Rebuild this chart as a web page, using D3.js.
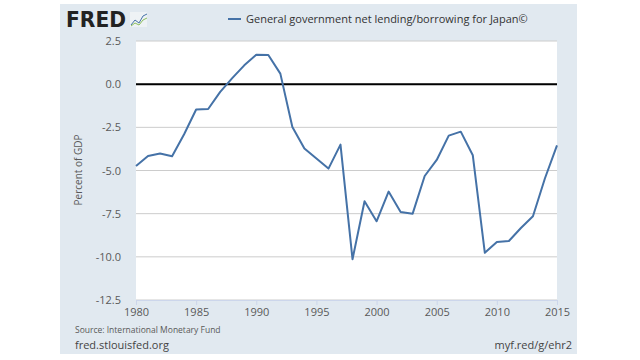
<!DOCTYPE html>
<html><head><meta charset="utf-8">
<script src="https://cdn.jsdelivr.net/npm/d3@7"></script>
<style>body{margin:0;background:#fff}svg{display:block;font-family:"Open Sans",sans-serif}</style>
</head><body><svg id="c" width="640" height="360"></svg>
<script>
const years = d3.range(1980, 2016);
const values = [-4.74,-4.16,-4.02,-4.18,-2.9,-1.47,-1.44,-0.45,0.35,1.09,1.71,1.69,0.61,-2.48,-3.73,-4.31,-4.89,-3.5,-10.14,-6.78,-7.94,-6.22,-7.4,-7.5,-5.32,-4.39,-2.98,-2.75,-4.12,-9.77,-9.14,-9.08,-8.33,-7.65,-5.45,-3.54];
const yTicks = [2.5,0,-2.5,-5,-7.5,-10,-12.5];
const xTicks = [1980,1985,1990,1995,2000,2005,2010,2015];
const seriesName = "General government net lending/borrowing for Japan\u00a9";

const svg = d3.select("#c");
svg.append("rect").attr("x",60).attr("y",4).attr("width",517).attr("height",350).attr("fill","#e1e9f0");

const x = d3.scaleLinear().domain([1980,2015]).range([136,557]);
const y = d3.scaleLinear().domain([-12.5,2.5]).range([300,41]);

svg.append("rect").attr("x",136).attr("y",41).attr("width",421).attr("height",259).attr("fill","#fff");

// grid
svg.append("g").selectAll("line").data(yTicks).join("line")
  .attr("x1",136).attr("x2",557).attr("y1",d=>y(d)).attr("y2",d=>y(d))
  .attr("stroke","#cccccc").attr("stroke-width",1);

// y axis labels
const fmt = d3.formatLocale({decimal:".",thousands:",",grouping:[3],currency:["$",""],minus:"-"}).format(".1f");
const ya = svg.append("g").attr("transform","translate(136,0)")
  .call(d3.axisLeft(y).tickValues(yTicks).tickSize(0).tickPadding(15).tickFormat(fmt));
ya.select(".domain").remove();
ya.selectAll("text").attr("fill","#595959").style("font-size","11px").style("font-family","'Open Sans',sans-serif");

// x axis
const xa = svg.append("g").attr("transform","translate(0,300)")
  .call(d3.axisBottom(x).tickValues(xTicks).tickFormat(d3.format("d")).tickSize(5).tickPadding(3));
xa.select(".domain").attr("stroke","#ccd6eb");
xa.selectAll(".tick line").attr("stroke","#ccd6eb");
xa.selectAll("text").attr("fill","#595959").style("font-size","11px").style("font-family","'Open Sans',sans-serif");

// zero line
svg.append("line").attr("x1",136).attr("x2",557).attr("y1",y(0)).attr("y2",y(0))
  .attr("stroke","#000").attr("stroke-width",2);

// series
const line = d3.line().x((d,i)=>x(years[i])).y(d=>y(d));
svg.append("path").datum(values).attr("d",line).attr("fill","none")
  .attr("stroke","#4572a7").attr("stroke-width",2).attr("stroke-linejoin","round");

// y title
svg.append("text").attr("transform","translate(82,170) rotate(-90)").attr("text-anchor","middle")
  .attr("fill","#595959").style("font-size","10px").text("Percent of GDP");

// legend
svg.append("line").attr("x1",228).attr("x2",241).attr("y1",19).attr("y2",19).attr("stroke","#4572a7").attr("stroke-width",2);
svg.append("text").attr("x",246).attr("y",23).attr("fill","#333").style("font-size","11px").text(seriesName);

// FRED logo
svg.append("text").attr("x",66).attr("y",27).attr("fill","#222").style("font-family","'DejaVu Sans',sans-serif")
  .style("font-weight","900").style("font-size","21px").attr("textLength",60).attr("lengthAdjust","spacingAndGlyphs").text("FRED");
svg.append("rect").attr("x",130).attr("y",12).attr("width",17).attr("height",15).attr("fill","#eef2f5");
svg.append("polyline").attr("points","131,25 135,20 139,23 143,16 147,14").attr("fill","none").attr("stroke","#4572a7").attr("stroke-width",1);
svg.append("polyline").attr("points","131,26 135,23 139,25 143,20 147,18").attr("fill","none").attr("stroke","#8bbf5b").attr("stroke-width",1);

// footer
svg.append("text").attr("x",75).attr("y",333).attr("fill","#595959").style("font-size","8.5px").text("Source: International Monetary Fund");
svg.append("text").attr("x",75).attr("y",349).attr("fill","#444").style("font-size","11px").text("fred.stlouisfed.org");
svg.append("text").attr("x",572).attr("y",349).attr("text-anchor","end").attr("fill","#444").style("font-size","11px").text("myf.red/g/ehr2");
</script></body></html>
